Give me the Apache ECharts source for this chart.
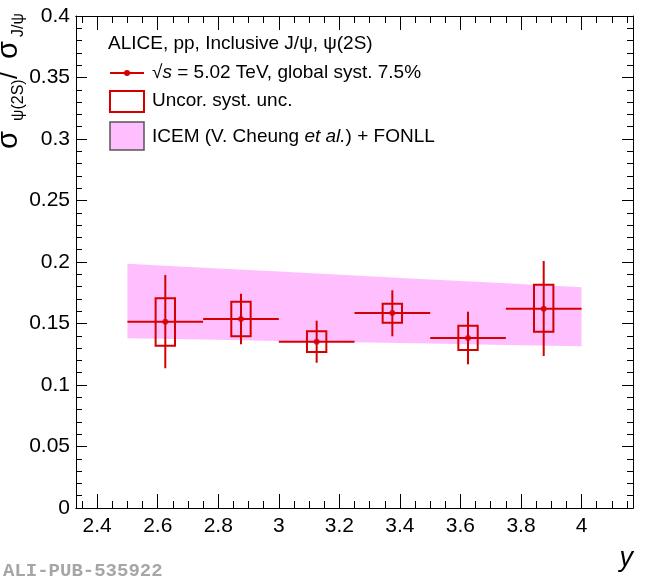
<!DOCTYPE html>
<html>
<head>
<meta charset="utf-8">
<script src="https://cdn.jsdelivr.net/npm/echarts@6/dist/echarts.min.js"></script>
<style>
  html, body { margin: 0; padding: 0; background: #fff; }
  #chart { width: 650px; height: 579px; }
</style>
</head>
<body>
<div id="chart"></div>
<script>
// psi(2S)/J/psi ratio vs rapidity, pp 5.02 TeV
var binCenters = [2.625, 2.875, 3.125, 3.375, 3.625, 3.875];
var binLo = [2.5, 2.75, 3.0, 3.25, 3.5, 3.75];
var binHi = [2.75, 3.0, 3.25, 3.5, 3.75, 4.0];
var ratio = [0.1515, 0.1537, 0.1352, 0.1585, 0.1382, 0.1620];
var statLo = [0.1136, 0.1331, 0.1181, 0.1396, 0.1168, 0.1236];
var statHi = [0.1894, 0.1742, 0.1523, 0.1770, 0.1596, 0.2008];
var systLo = [0.1320, 0.1396, 0.1268, 0.1507, 0.1285, 0.1433];
var systHi = [0.1705, 0.1677, 0.1436, 0.1661, 0.1482, 0.1816];

// ICEM + FONLL band
var bandX = [2.5, 2.75, 3.0, 3.25, 3.5, 3.75, 4.0];
var bandHi = [0.1985, 0.1953, 0.1922, 0.1890, 0.1858, 0.1827, 0.1795];
var bandLo = [0.1380, 0.1369, 0.1358, 0.1348, 0.1337, 0.1326, 0.1315];

// tick labels
var xMajor = [2.4, 2.6, 2.8, 3.0, 3.2, 3.4, 3.6, 3.8, 4.0];
var xMinor = [2.35, 2.45, 2.5, 2.55, 2.65, 2.7, 2.75, 2.85, 2.9, 2.95, 3.05, 3.1, 3.15,
              3.25, 3.3, 3.35, 3.45, 3.5, 3.55, 3.65, 3.7, 3.75, 3.85, 3.9, 3.95, 4.05, 4.1, 4.15];

var RED = '#d40000';
var PINK = '#ffbfff';
var FONT = 'Liberation Sans';
var BOX_HALF = 0.032;
var LEG_SIZE = 19;

var chart = echarts.init(document.getElementById('chart'));

function xAxisDef(pos, values, len, labels) {
    return {
        type: 'value', min: 2.33, max: 4.17, position: pos,
        axisLine: { show: true, onZero: false, lineStyle: { color: '#000', width: 1 } },
        axisTick: { show: true, inside: true, length: len, customValues: values, lineStyle: { color: '#000' } },
        axisLabel: labels ? {
            show: true, customValues: values, fontFamily: FONT, fontSize: 21, color: '#000', margin: 8
        } : { show: false },
        splitLine: { show: false }
    };
}

function yAxisDef(pos, labels) {
    return {
        type: 'value', min: 0, max: 0.4, interval: 0.05, position: pos,
        axisLine: { show: true, onZero: false, lineStyle: { color: '#000', width: 1 } },
        axisTick: { show: true, inside: true, length: 11, lineStyle: { color: '#000' } },
        minorTick: { show: true, splitNumber: 5, length: 6, lineStyle: { color: '#000' } },
        axisLabel: labels ? {
            show: true, fontFamily: FONT, fontSize: 21, color: '#000', margin: 6
        } : { show: false },
        splitLine: { show: false }
    };
}

function yTitle(text, x, y, size) {
    return {
        type: 'text', x: x, y: y, rotation: Math.PI / 2,
        style: { text: text, fontFamily: FONT, fontSize: size, fill: '#000', align: 'left', verticalAlign: 'middle' }
    };
}

function legendText(text, x, y) {
    return {
        type: 'text', x: x, y: y,
        style: {
            text: text,
            verticalAlign: 'middle',
            rich: {
                n: { fontFamily: FONT, fontSize: LEG_SIZE, fill: '#000' },
                i: { fontFamily: FONT, fontSize: LEG_SIZE, fontStyle: 'italic', fill: '#000' }
            }
        }
    };
}

var option = {
    animation: false,
    grid: { left: 76, right: 17, top: 16, bottom: 71, containLabel: false },
    xAxis: [
        xAxisDef('bottom', xMajor, 14, true),
        xAxisDef('bottom', xMinor, 7, false),
        xAxisDef('top', xMajor, 14, false),
        xAxisDef('top', xMinor, 7, false)
    ],
    yAxis: [yAxisDef('left', true), yAxisDef('right', false)],
    series: [
        {
            type: 'custom',
            name: 'band',
            data: bandX.map(function(x, i) { return [x, bandLo[i], bandHi[i]]; }),
            renderItem: function(params, api) {
                if (params.dataIndex !== 0) return null;
                var pts = [];
                for (var i = 0; i < bandX.length; i++) pts.push(api.coord([bandX[i], bandHi[i]]));
                for (var j = bandX.length - 1; j >= 0; j--) pts.push(api.coord([bandX[j], bandLo[j]]));
                return { type: 'polygon', shape: { points: pts }, style: { fill: PINK, stroke: null } };
            },
            z: 1
        },
        {
            type: 'custom',
            name: 'syst',
            data: binCenters.map(function(x, i) { return [x, systLo[i], systHi[i]]; }),
            renderItem: function(params, api) {
                var p1 = api.coord([api.value(0) - BOX_HALF, api.value(2)]);
                var p2 = api.coord([api.value(0) + BOX_HALF, api.value(1)]);
                return {
                    type: 'rect',
                    shape: { x: p1[0], y: p1[1], width: p2[0] - p1[0], height: p2[1] - p1[1] },
                    style: { fill: 'none', stroke: RED, lineWidth: 2 }
                };
            },
            z: 2
        },
        {
            type: 'custom',
            name: 'stat',
            data: binCenters.map(function(x, i) { return [x, ratio[i], statLo[i], statHi[i], binLo[i], binHi[i]]; }),
            renderItem: function(params, api) {
                var l = api.coord([api.value(4), api.value(1)]);
                var r = api.coord([api.value(5), api.value(1)]);
                var t = api.coord([api.value(0), api.value(3)]);
                var b = api.coord([api.value(0), api.value(2)]);
                var st = { stroke: RED, lineWidth: 2 };
                return {
                    type: 'group',
                    children: [
                        { type: 'line', shape: { x1: l[0], y1: l[1], x2: r[0], y2: r[1] }, style: st },
                        { type: 'line', shape: { x1: t[0], y1: t[1], x2: b[0], y2: b[1] }, style: st }
                    ]
                };
            },
            z: 3
        },
        {
            type: 'scatter',
            data: binCenters.map(function(x, i) { return [x, ratio[i]]; }),
            symbol: 'circle',
            symbolSize: 6,
            itemStyle: { color: RED },
            z: 4
        }
    ],
    graphic: [
        // y axis title
        yTitle('σ', 9, 149, 29),
        yTitle('ψ(2S)', 19, 121, 16),
        yTitle('/', 10, 79, 24),
        yTitle('σ', 9, 59, 29),
        yTitle('J/ψ', 19, 37, 16),
        // x axis title
        {
            type: 'text', x: 633, y: 558,
            style: { text: 'y', fontFamily: FONT, fontStyle: 'italic', fontSize: 27, fill: '#000', align: 'right', verticalAlign: 'middle' }
        },
        // legend
        legendText('{n|ALICE, pp, Inclusive J/ψ, ψ(2S)}', 108, 44),
        { type: 'line', shape: { x1: 110, y1: 73, x2: 144, y2: 73 }, style: { stroke: RED, lineWidth: 2 } },
        { type: 'circle', shape: { cx: 127, cy: 73, r: 3 }, style: { fill: RED } },
        legendText('{n|√}{i|s}{n| = 5.02 TeV, global syst. 7.5%}', 152, 73),
        { type: 'rect', shape: { x: 110, y: 91, width: 34, height: 21 }, style: { fill: 'none', stroke: RED, lineWidth: 2 } },
        legendText('{n|Uncor. syst. unc.}', 152, 101),
        { type: 'rect', shape: { x: 110, y: 122, width: 34, height: 28 }, style: { fill: PINK, stroke: '#555', lineWidth: 1.5 } },
        legendText('{n|ICEM (V. Cheung }{i|et al.}{n|) + FONLL}', 152, 137),
        // publication id
        {
            type: 'text', x: 3, y: 571,
            style: { text: 'ALI-PUB-535922', fontFamily: 'Liberation Mono', fontWeight: 'bold', fontSize: 19, fill: '#a6a6a6', verticalAlign: 'middle' }
        }
    ]
};

chart.setOption(option);
</script>
</body>
</html>
